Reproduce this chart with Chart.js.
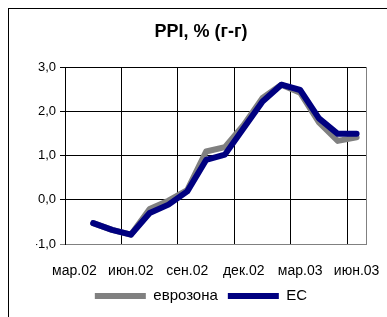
<!DOCTYPE html>
<html>
<head>
<meta charset="utf-8">
<script src="https://cdn.jsdelivr.net/npm/chart.js@4.4.1/dist/chart.umd.min.js"></script>
<style>
  html, body { margin: 0; padding: 0; background: #fff; overflow: hidden; }
  #wrap { position: relative; width: 387px; height: 317px; overflow: hidden; }
  #frame { position: absolute; left: 8px; top: 8px; width: 500px; height: 500px;
    border: 1px solid #000; box-sizing: border-box; }
  canvas { position: absolute; left: 0; top: 0; }
</style>
</head>
<body>
<div id="wrap">
  <div id="frame"></div>
  <canvas id="chart" width="387" height="317"></canvas>
</div>
<script>
const FONT = '"Liberation Sans", Arial, sans-serif';

// monthly categories, label shown every 3rd month
const months = ['мар.02', 'апр.02', 'май.02', 'июн.02', 'июл.02', 'авг.02',
  'сен.02', 'окт.02', 'ноя.02', 'дек.02', 'янв.03', 'фев.03', 'мар.03',
  'апр.03', 'май.03', 'июн.03'];
const eurozone = [null, -0.53, -0.68, -0.79, -0.21, -0.02, 0.22, 1.09, 1.19,
  1.69, 2.30, 2.60, 2.42, 1.75, 1.33, 1.41];
const eu = [null, -0.53, -0.68, -0.79, -0.30, -0.11, 0.19, 0.90, 1.02,
  1.62, 2.22, 2.60, 2.48, 1.84, 1.49, 1.49];
const seriesNames = ['еврозона', 'ЕС'];
const yMin = -1;
const yMax = 3;

const PAD_LEFT = 36;

const lineStyle = {
  borderWidth: 6,
  pointRadius: 0,
  tension: 0,
  borderCapStyle: 'round',
  borderJoinStyle: 'round',
  spanGaps: false,
};

new Chart(document.getElementById('chart'), {
  type: 'line',
  data: {
    labels: months,
    datasets: [{
      label: seriesNames[0],
      data: eurozone,
      borderColor: '#808080',
      backgroundColor: '#808080',
      order: 1,
      ...lineStyle,
    }, {
      label: seriesNames[1],
      data: eu,
      borderColor: '#000080',
      backgroundColor: '#000080',
      order: 0,
      ...lineStyle,
    }],
  },
  options: {
    responsive: false,
    animation: false,
    layout: {
      padding: {left: PAD_LEFT, right: 21, top: 0, bottom: 3.5},
    },
    plugins: {
      title: {
        display: true,
        text: 'PPI, % (г-г)',
        color: '#000',
        font: {family: FONT, size: 18, weight: 'bold'},
        padding: {top: 21, bottom: 24.4},
      },
      legend: {
        position: 'bottom',
        labels: {
          color: '#000',
          font: {family: FONT, size: 15},
          usePointStyle: true,
          pointStyle: 'line',
          pointStyleWidth: 51,
          padding: 10,
          sort: (a, b) => a.datasetIndex - b.datasetIndex,
        },
      },
      tooltip: {enabled: false},
    },
    scales: {
      x: {
        offset: true,
        afterFit: (scale) => {
          scale.height = 34.5;
          // labels may overhang into the layout padding
          scale.paddingLeft = 0;
          scale.paddingRight = 0;
        },
        grid: {
          offset: true,
          drawTicks: false,
          lineWidth: 1,
          color: (ctx) => {
            if (ctx.index === undefined) return '#808080';
            return ctx.index % 3 === 0 ? '#000' : 'rgba(0,0,0,0)';
          },
        },
        border: {color: '#808080'},
        ticks: {
          autoSkip: false,
          maxRotation: 0,
          padding: 19,
          color: '#000',
          font: {family: FONT, size: 14},
          callback: function(value, index) {
            return index % 3 === 0 ? this.getLabelForValue(value) : '';
          },
        },
      },
      y: {
        min: yMin,
        max: yMax,
        afterFit: (scale) => {
          scale.width = 65 - PAD_LEFT;
        },
        grid: {
          tickLength: 5,
          color: (ctx) => ctx.tick && ctx.tick.value === yMin ? '#808080' : '#000',
        },
        border: {color: '#000'},
        ticks: {
          stepSize: 1,
          padding: 4,
          color: '#000',
          font: {family: FONT, size: 13},
          callback: (v) => v.toFixed(1).replace('.', ','),
        },
      },
    },
  },
});
</script>
</body>
</html>
